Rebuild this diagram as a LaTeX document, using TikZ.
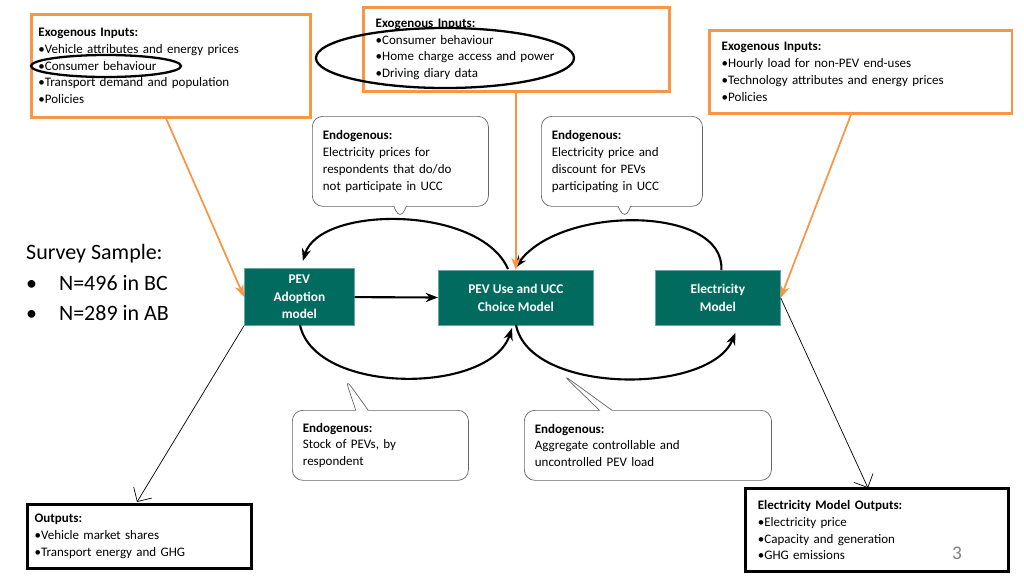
\documentclass[tikz,border=0pt]{standalone}
\usepackage{fontspec}
\setmainfont{Carlito}
\usetikzlibrary{shapes.callouts,shapes.geometric,arrows.meta}
\definecolor{orng}{HTML}{F79646}
\definecolor{teal2}{HTML}{006B5E}
\begin{document}
\begin{tikzpicture}[x=0.02cm, y=-0.02cm,
    exo/.style = {draw=orng, line width=1.6pt, align=left, anchor=north west, inner sep=4pt, font=\fontsize{7.4}{9.6}\selectfont},
    outbox/.style = {draw=black, line width=1.8pt, align=left, anchor=north west, inner sep=4pt, font=\fontsize{7.4}{9.6}\selectfont},
    model/.style = {draw=teal2!60, fill=teal2, text=white, font=\bfseries\fontsize{7.6}{10}\selectfont, align=center, anchor=north west, inner sep=0pt},
    endo/.style = {rectangle callout, draw=black!60, rounded corners=6pt, align=left, anchor=north west, inner sep=6pt, font=\fontsize{7.4}{9.6}\selectfont},
    inarrow/.style = {draw=orng, line width=1pt, -{Stealth[length=7pt]}},
    loop/.style = {line width=1.2pt, -{Stealth[length=7pt]}},
    outarrow/.style = {draw=black, thin, -{Straight Barb[length=6pt]}}]
    \useasboundingbox (0,0) rectangle (1024,576);
    % inputs
    \node[exo, text width=265*0.02cm, minimum height=103*0.02cm] (exoa) at (30,13) {\textbf{Exogenous Inputs:}\\ •Vehicle attributes and energy prices\\ •Consumer behaviour\\ •Transport demand and population\\ •Policies};
    \node[exo, text width=292*0.02cm, minimum height=84*0.02cm] (exob) at (362,6) {\hspace*{3pt}\textbf{Exogenous Inputs:}\\ \hspace*{3pt}•Consumer behaviour\\ \hspace*{3pt}•Home charge access and power\\ \hspace*{3pt}•Driving diary data};
    \node[exo, text width=278*0.02cm, minimum height=83*0.02cm, inner xsep=7pt] (exoc) at (708,29) {\textbf{Exogenous Inputs:}\\ •Hourly load for non-PEV end-uses\\ •Technology attributes and energy prices\\ •Policies};
    \node[draw, ellipse, line width=1.3pt, minimum width=150*0.02cm, minimum height=22*0.02cm] (elA) at (106,66) {};
    \node[draw, ellipse, line width=1.3pt, minimum width=258*0.02cm, minimum height=60*0.02cm] (elB) at (445,58) {};
    % endogenous callouts
    \node[endo, text width=155*0.02cm, minimum height=90*0.02cm, callout absolute pointer={(400,220)}] (endoa) at (312,116) {\textbf{Endogenous:}\\ Electricity prices for\\ respondents that do/do\\ not participate in UCC};
    \node[endo, text width=140*0.02cm, minimum height=90*0.02cm, callout absolute pointer={(625,220)}] (endob) at (541,116) {\textbf{Endogenous:}\\ Electricity price and\\ discount for PEVs\\ participating in UCC};
    \node[endo, text width=155*0.02cm, minimum height=70*0.02cm, callout absolute pointer={(345,378)}] (endoc) at (292,410) {\textbf{Endogenous:}\\ Stock of  PEVs, by\\ respondent};
    \node[endo, text width=226*0.02cm, minimum height=70*0.02cm, callout absolute pointer={(562,374)}] (endod) at (524,410) {\textbf{Endogenous:}\\ Aggregate controllable and\\ uncontrolled PEV load};
    % survey
    \node[anchor=north west, align=left, font=\fontsize{12.5}{17.5}\selectfont] (survey) at (20,238) {Survey Sample:\\ •\quad N=496 in BC\\ •\quad N=289 in AB};
    % models
    \node[model, minimum width=110*0.02cm, minimum height=57*0.02cm] (adopt) at (244,268) {PEV\\ Adoption\\ model};
    \node[model, minimum width=155*0.02cm, minimum height=55*0.02cm] (use) at (438,270) {PEV Use and UCC\\ Choice Model};
    \node[model, minimum width=125*0.02cm, minimum height=55*0.02cm] (elec) at (655,270) {Electricity\\ Model};
    \draw[line width=1.2pt, -{Stealth[length=7pt]}] (adopt) -- (use);
    % loops
    \coordinate (tl) at (508,269);
    \coordinate (tr) at (515,268);
    \coordinate (bl) at (512,328);
    \coordinate (br) at (516,325);
    \draw[loop] (tl) .. controls (480,205) and (320,205) .. ([xshift=2pt, yshift=4pt]adopt.north);
    \draw[loop] ([xshift=2pt]elec.north) .. controls (725,205) and (560,205) .. (tr);
    \draw[loop] (300,325) .. controls (315,395) and (490,395) .. (bl);
    \draw[loop] (br) .. controls (530,395) and (710,395) .. ([xshift=10pt, yshift=-4pt]elec.south);
    % input arrows
    \draw[inarrow] (165,116) -- (adopt.west);
    \draw[inarrow] (exob.south -| use.north) -- (use.north);
    \draw[inarrow] (852,112) -- (elec.east);
    % outputs
    \node[outbox, text width=210*0.02cm, minimum height=64*0.02cm] (outa) at (26,503) {\textbf{Outputs:}\\ •Vehicle market shares\\ •Transport energy and GHG};
    \node[outbox, text width=238*0.02cm, minimum height=83*0.02cm, inner xsep=7pt] (outb) at (744,487) {\textbf{Electricity Model Outputs:}\\ •Electricity price\\ •Capacity and generation\\ •GHG emissions};
    \draw[outarrow] (adopt.south west) -- (137,502);
    \draw[outarrow] (elec.east) -- (868,488);
    \node[text=gray, font=\fontsize{11}{13}\selectfont] (pagenum) at (957,553) {3};
\end{tikzpicture}
\end{document}
